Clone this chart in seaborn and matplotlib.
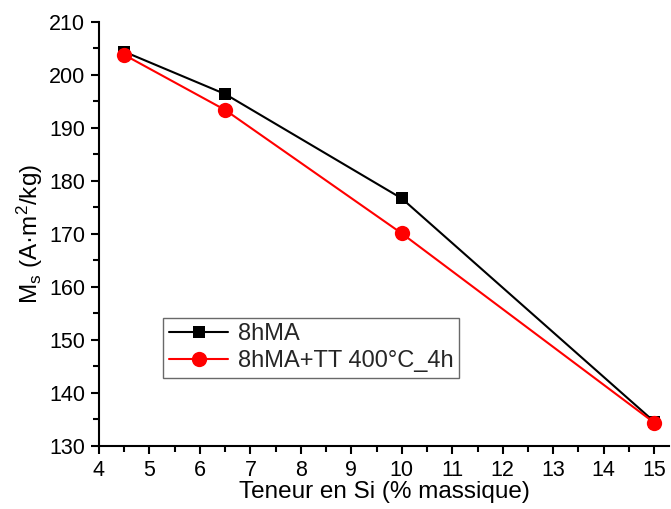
"""Ms vs Si content for milled and annealed powders."""
import matplotlib
matplotlib.use('Agg')
import matplotlib.pyplot as plt
from matplotlib.ticker import MultipleLocator
import pandas as pd
import seaborn as sns

si_content = [4.5, 6.5, 10, 15]
ms_8hma = [204.4, 196.4, 176.7, 134.6]
ms_8hma_tt = [203.8, 193.4, 170.1, 134.4]
labels = ['8hMA', '8hMA+TT 400°C_4h']

sns.set_theme(style='ticks')
plt.rcParams['font.family'] = ['Liberation Sans', 'DejaVu Sans']
plt.rcParams['mathtext.default'] = 'regular'

df = pd.DataFrame({
    'si': si_content * 2,
    'ms': ms_8hma + ms_8hma_tt,
    'serie': [labels[0]] * 4 + [labels[1]] * 4,
})

fig = plt.figure(figsize=(6.71, 5.09), dpi=100)
ax = fig.add_axes([0.1475, 0.1238, 0.85, 0.833])

sns.lineplot(data=df[df.serie == labels[0]], x='si', y='ms', color='black',
             marker='s', markersize=9, linewidth=1.5, markeredgewidth=0,
             label=labels[0], ax=ax)
sns.lineplot(data=df[df.serie == labels[1]], x='si', y='ms', color='red',
             marker='o', markersize=11, linewidth=1.5, markeredgewidth=0,
             label=labels[1], ax=ax)

ax.set_xlim(4, 15.3)
ax.set_ylim(130, 210)
ax.xaxis.set_major_locator(MultipleLocator(1))
ax.xaxis.set_minor_locator(MultipleLocator(0.5))
ax.yaxis.set_major_locator(MultipleLocator(10))
ax.yaxis.set_minor_locator(MultipleLocator(5))
ax.tick_params(which='major', length=6, width=1.5, labelsize=15.5, color='black',
               labelcolor='black', pad=4)
ax.tick_params(which='minor', length=4, width=1.5, color='black')
for side in ['top', 'right']:
    ax.spines[side].set_visible(False)
for side in ['left', 'bottom']:
    ax.spines[side].set_linewidth(1.5)
    ax.spines[side].set_color('black')

ax.set_xlabel('Teneur en Si (% massique)', fontsize=17.5, labelpad=0, color='black')
ax.set_ylabel('M$_s$ (A·m$^2$/kg)', fontsize=17.5, labelpad=3, color='black')

leg = ax.legend(loc='upper left', bbox_to_anchor=(0.113, 0.303), fontsize=17,
                frameon=True, fancybox=False, handlelength=2.5, borderpad=0.25,
                labelspacing=0.2, handletextpad=0.4, borderaxespad=0)
leg.get_frame().set_edgecolor('#444444')
leg.get_frame().set_linewidth(1.0)

plt.savefig('out.png', dpi=100)
plt.close()
